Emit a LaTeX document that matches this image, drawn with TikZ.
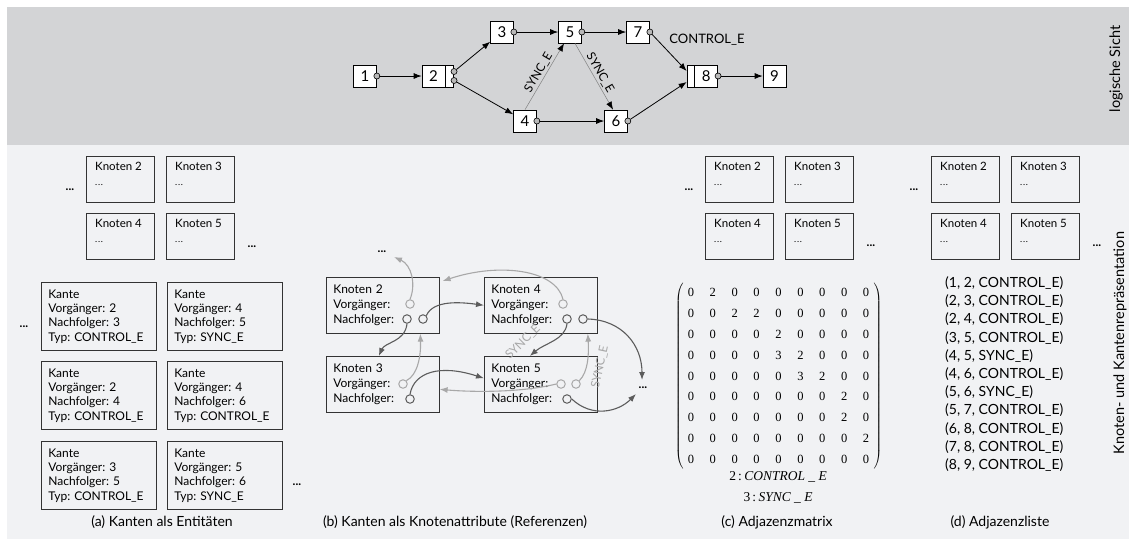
\documentclass[tikz,border=0pt]{standalone}
\usepackage{fontspec}
\setmainfont{Lato}
\newfontfamily\mxfont{Liberation Serif}
\usetikzlibrary{arrows.meta,matrix,calc}
\definecolor{topbg}{HTML}{D3D4D6}
\definecolor{botbg}{HTML}{F1F2F4}
\definecolor{dk}{HTML}{5C5C5C}
\definecolor{lt}{HTML}{A8A8A8}
\definecolor{boxline}{HTML}{333333}
\newcommand\knb[4]{%
  \node[knbox] (#1) at (#2,#3) {};
  \node[kntext] (#1t) at ($(#1.north west)+(9,6)$) {Knoten #4\\{\fontsize{9}{15}\selectfont .\kern0.7pt.\kern0.7pt.}};
}
\begin{document}
\frenchspacing
\begin{tikzpicture}[x=1pt,y=-1pt,
  gnode/.style={draw=black, line width=0.7pt, fill=white, minimum width=23pt, minimum height=22pt, inner sep=0pt, font=\fontsize{15}{15}\selectfont},
  gpart/.style={draw=black, line width=0.7pt, fill=white, minimum height=22pt, inner sep=0pt},
  port/.style={circle, draw=black, fill=gray!55, line width=0.6pt, inner sep=0pt, minimum size=6pt},
  carr/.style={draw=black, line width=0.8pt, -{Latex[length=8pt,width=6pt]}},
  sarr/.style={draw=gray, line width=0.5pt, -{Latex[length=8pt,width=6pt,color=black]}},
  lab/.style={font=\fontsize{12}{12}\selectfont, inner sep=1.5pt},
  knbox/.style={draw=boxline, line width=0.6pt, minimum width=68pt, minimum height=46pt, inner sep=0pt, anchor=north west},
  kntext/.style={anchor=north west, inner sep=0pt, align=left, font=\fontsize{11.5}{15}\selectfont},
  kante/.style={draw=boxline, line width=0.6pt, minimum width=115pt, minimum height=68pt, text width=101pt, inner xsep=7pt, align=left, anchor=north west, font=\fontsize{12}{14.3}\selectfont},
  bbox/.style={draw=boxline, line width=0.6pt, minimum width=113pt, minimum height=56pt, text width=99pt, inner xsep=7pt, align=left, anchor=north west, font=\fontsize{12}{15}\selectfont},
  dots/.style={font=\fontsize{12}{12}\selectfont\bfseries, inner sep=0pt},
  pd/.style={circle, draw=dk, line width=1pt, minimum size=8.5pt, inner sep=0pt, fill=botbg},
  pl/.style={circle, draw=lt, line width=1pt, minimum size=8.5pt, inner sep=0pt, fill=botbg},
  darr/.style={draw=dk, line width=1.1pt, -{Latex[length=8pt,width=6pt]}},
  larr/.style={draw=lt, line width=1.1pt, -{Latex[length=8pt,width=6pt]}},
  llab/.style={text=lt, font=\fontsize{12}{12}\selectfont, inner sep=0pt},
  captxt/.style={font=\fontsize{14}{15}\selectfont},
  side/.style={font=\fontsize{14.5}{15}\selectfont, rotate=90}
]
\useasboundingbox (0,0) rectangle (1129,539);
\fill[topbg] (7,7) rectangle (1129,145);
\fill[botbg] (7,145) rectangle (1129,539);

% ---------- logical view ----------
\node[gnode] (n1) at (365,76) {1};
\node[gnode] (n2) at (433.5,76) {2};
\node[gpart, minimum width=8pt, anchor=west] (n2p) at (n2.east) {};
\node[gnode] (n3) at (502,32) {3};
\node[gnode] (n5) at (570,32) {5};
\node[gnode] (n7) at (638,32) {7};
\node[gnode] (n4) at (525,121) {4};
\node[gnode] (n6) at (616,121) {6};
\node[gpart, minimum width=7pt] (n8l) at (690.5,76) {};
\node[gnode, anchor=west] (n8) at (n8l.east) {8};
\node[gnode] (n9) at (774.5,76) {9};

\node[port] (p1) at (n1.east) {};
\node[port] (p2a) at ($(n2p.east)+(0,-4.5)$) {};
\node[port] (p2b) at ($(n2p.east)+(0,4.5)$) {};
\node[port] (p3) at (n3.east) {};
\node[port] (p5) at (n5.east) {};
\node[port] (p7) at (n7.east) {};
\node[port] (p4) at (n4.east) {};
\node[port] (p6) at (n6.east) {};
\node[port] (p8) at (n8.east) {};

\draw[carr] (p1) -- (n2);
\draw[carr] (p2a) -- (n3);
\draw[carr] (p2b) -- (n4);
\draw[carr] (p3) -- (n5);
\draw[carr] (p5) -- (n7);
\draw[carr] (p4) -- (n6);
\draw[carr] (p7) -- ($(n8l.west)+(0,-5)$);
\draw[carr] (p6) -- ($(n8l.west)+(0,6)$);
\draw[carr] (p8) -- (n9);
\draw[sarr] (n4.north) -- node[lab, above, sloped] {SYNC\_E} ($(n5.south)+(-6,0)$);
\draw[sarr] ($(n5.south)+(5,0)$) -- node[lab, above, sloped] {SYNC\_E} ($(n6.north)+(-3,0)$);
\node[font=\fontsize{13}{13}\selectfont] (ctl) at (707,40) {CONTROL\_E};

\node[side] (sidetop) at (1116,69) {logische Sicht};
\node[side] (sidebot) at (1120,343) {Knoten- und Kantenrepräsentation};

% ---------- (a) ----------
\knb{a2}{86}{156}{2}
\knb{a3}{166}{156}{3}
\knb{a4}{86}{213}{4}
\knb{a5}{166}{213}{5}
\node[dots] (ad1) at (70,190) {...};
\node[dots] (ad2) at (252,247) {...};
\node[kante] (e23) at (41,282) {Kante\\Vorgänger: 2\\Nachfolger: 3\\Typ: CONTROL\_E};
\node[kante] (e45) at (167,282) {Kante\\Vorgänger: 4\\Nachfolger: 5\\Typ: SYNC\_E};
\node[kante] (e24) at (41,361) {Kante\\Vorgänger: 2\\Nachfolger: 4\\Typ: CONTROL\_E};
\node[kante] (e46) at (167,361) {Kante\\Vorgänger: 4\\Nachfolger: 6\\Typ: CONTROL\_E};
\node[kante] (e35) at (41,441) {Kante\\Vorgänger: 3\\Nachfolger: 5\\Typ: CONTROL\_E};
\node[kante] (e56) at (167,441) {Kante\\Vorgänger: 5\\Nachfolger: 6\\Typ: SYNC\_E};
\node[dots] (ad3) at (24,327) {...};
\node[dots] (ad4) at (297,485) {...};
\node[captxt] (capa) at (162,522) {(a) Kanten als Entitäten};

% ---------- (b) ----------
\node[bbox] (b2) at (326,277) {Knoten 2\\Vorgänger:\\Nachfolger:};
\node[bbox] (b4) at (484,277) {Knoten 4\\Vorgänger:\\Nachfolger:};
\node[bbox] (b3) at (326,356) {Knoten 3\\Vorgänger:\\Nachfolger:};
\node[bbox] (b5) at (484,356) {Knoten 5\\Vorgänger:\\Nachfolger:};
\node[dots] (bdt) at (382,252) {...};
\node[dots] (bdr) at (643,388) {...};
\coordinate (bdtE) at (394,257);
\coordinate (bdrN) at (642,380);
\coordinate (bdrS) at (636,394);

\node[pl] (b2v) at (410,304) {};
\node[pd] (b2na) at (407,319) {};
\node[pd] (b2nb) at (423,319) {};
\node[pl] (b4v) at (563,304) {};
\node[pd] (b4na) at (567,319) {};
\node[pd] (b4nb) at (583,319) {};
\node[pl] (b3v) at (403,384) {};
\node[pd] (b3n) at (410,399) {};
\node[pl] (b5va) at (561,384) {};
\node[pl] (b5vb) at (576,384) {};
\node[pd] (b5n) at (567,399) {};

\draw[larr] (b2v.north) .. controls (416,285) and (412,265) .. (bdtE);
\draw[darr] (b2nb.north east) .. controls (433,300) and (460,302) .. (b4.west);
\draw[darr] (b2na.south) .. controls (405,342) and (385,342) .. ($(b3.north)+(-4,0)$);
\draw[larr] (b4v.north) .. controls (556,270) and (500,262) .. ($(b2.north east)+(3,4)$);
\draw[darr] (b4na.south) .. controls (565,340) and (545,343) .. ($(b5.north)+(-11,0)$);
\node[llab, rotate=45] (bs1) at (523,342) {SYNC\_E};
\draw[darr] (b4nb.east) .. controls (622,320) and (642,345) .. (bdrN);
\draw[larr] (b3v.north east) .. controls (418,375) and (421,355) .. ($(b2.south)+(37.5,0)$);
\draw[darr] (b3n.north) .. controls (414,372) and (440,364) .. ($(b5.west)+(0,-6)$);
\draw[larr] (b5va.west) .. controls (520,393) and (470,392) .. ($(b3.east)+(0,5)$);
\draw[larr] (b5vb.north east) .. controls (588,372) and (589,355) .. ($(b4.south)+(47,0)$);
\node[llab, rotate=78] (bs2) at (600,367) {SYNC\_E};
\draw[darr] (b5n.east) .. controls (592,418) and (618,412) .. (bdrS);
\node[captxt] (capb) at (455,522) {(b) Kanten als Knotenattribute (Referenzen)};

% ---------- (c) ----------
\knb{c2}{705}{156}{2}
\knb{c3}{785}{156}{3}
\knb{c4}{705}{213}{4}
\knb{c5}{785}{213}{5}
\node[dots] (cd1) at (689,190) {...};
\node[dots] (cd2) at (871,246) {...};
\matrix (M) [matrix of nodes, left delimiter=(, right delimiter=),
  nodes={minimum width=12pt, minimum height=20.75pt, inner sep=0pt, font=\mxfont\fontsize{12.5}{12.5}\selectfont},
  column sep=9.9pt, row sep=0pt, inner sep=0pt] at (778.5,376) {
0 & 2 & 0 & 0 & 0 & 0 & 0 & 0 & 0 \\
0 & 0 & 2 & 2 & 0 & 0 & 0 & 0 & 0 \\
0 & 0 & 0 & 0 & 2 & 0 & 0 & 0 & 0 \\
0 & 0 & 0 & 0 & 3 & 2 & 0 & 0 & 0 \\
0 & 0 & 0 & 0 & 0 & 3 & 2 & 0 & 0 \\
0 & 0 & 0 & 0 & 0 & 0 & 0 & 2 & 0 \\
0 & 0 & 0 & 0 & 0 & 0 & 0 & 2 & 0 \\
0 & 0 & 0 & 0 & 0 & 0 & 0 & 0 & 2 \\
0 & 0 & 0 & 0 & 0 & 0 & 0 & 0 & 0 \\
};
\node[font=\mxfont\fontsize{13.5}{14}\selectfont] (leg1) at (778,477) {2\,:\,\itshape CONTROL\ \_\ E};
\node[font=\mxfont\fontsize{13.5}{14}\selectfont] (leg2) at (778,498) {3\,:\,\itshape SYNC\ \_\ E};
\node[captxt] (capc) at (777,522) {(c) Adjazenzmatrix};

% ---------- (d) ----------
\knb{d2}{931}{156}{2}
\knb{d3}{1011}{156}{3}
\knb{d4}{931}{213}{4}
\knb{d5}{1011}{213}{5}
\node[dots] (dd1) at (914,190) {...};
\node[dots] (dd2) at (1097,246) {...};
\node[anchor=west, align=left, inner sep=0pt, font=\fontsize{14}{18.2}\selectfont] (list) at (945,374) {(1, 2, CONTROL\_E)\\(2, 3, CONTROL\_E)\\(2, 4, CONTROL\_E)\\(3, 5, CONTROL\_E)\\(4, 5, SYNC\_E)\\(4, 6, CONTROL\_E)\\(5, 6, SYNC\_E)\\(5, 7, CONTROL\_E)\\(6, 8, CONTROL\_E)\\(7, 8, CONTROL\_E)\\(8, 9, CONTROL\_E)};
\node[captxt] (capd) at (1000,522) {(d) Adjazenzliste};
\end{tikzpicture}
\end{document}
